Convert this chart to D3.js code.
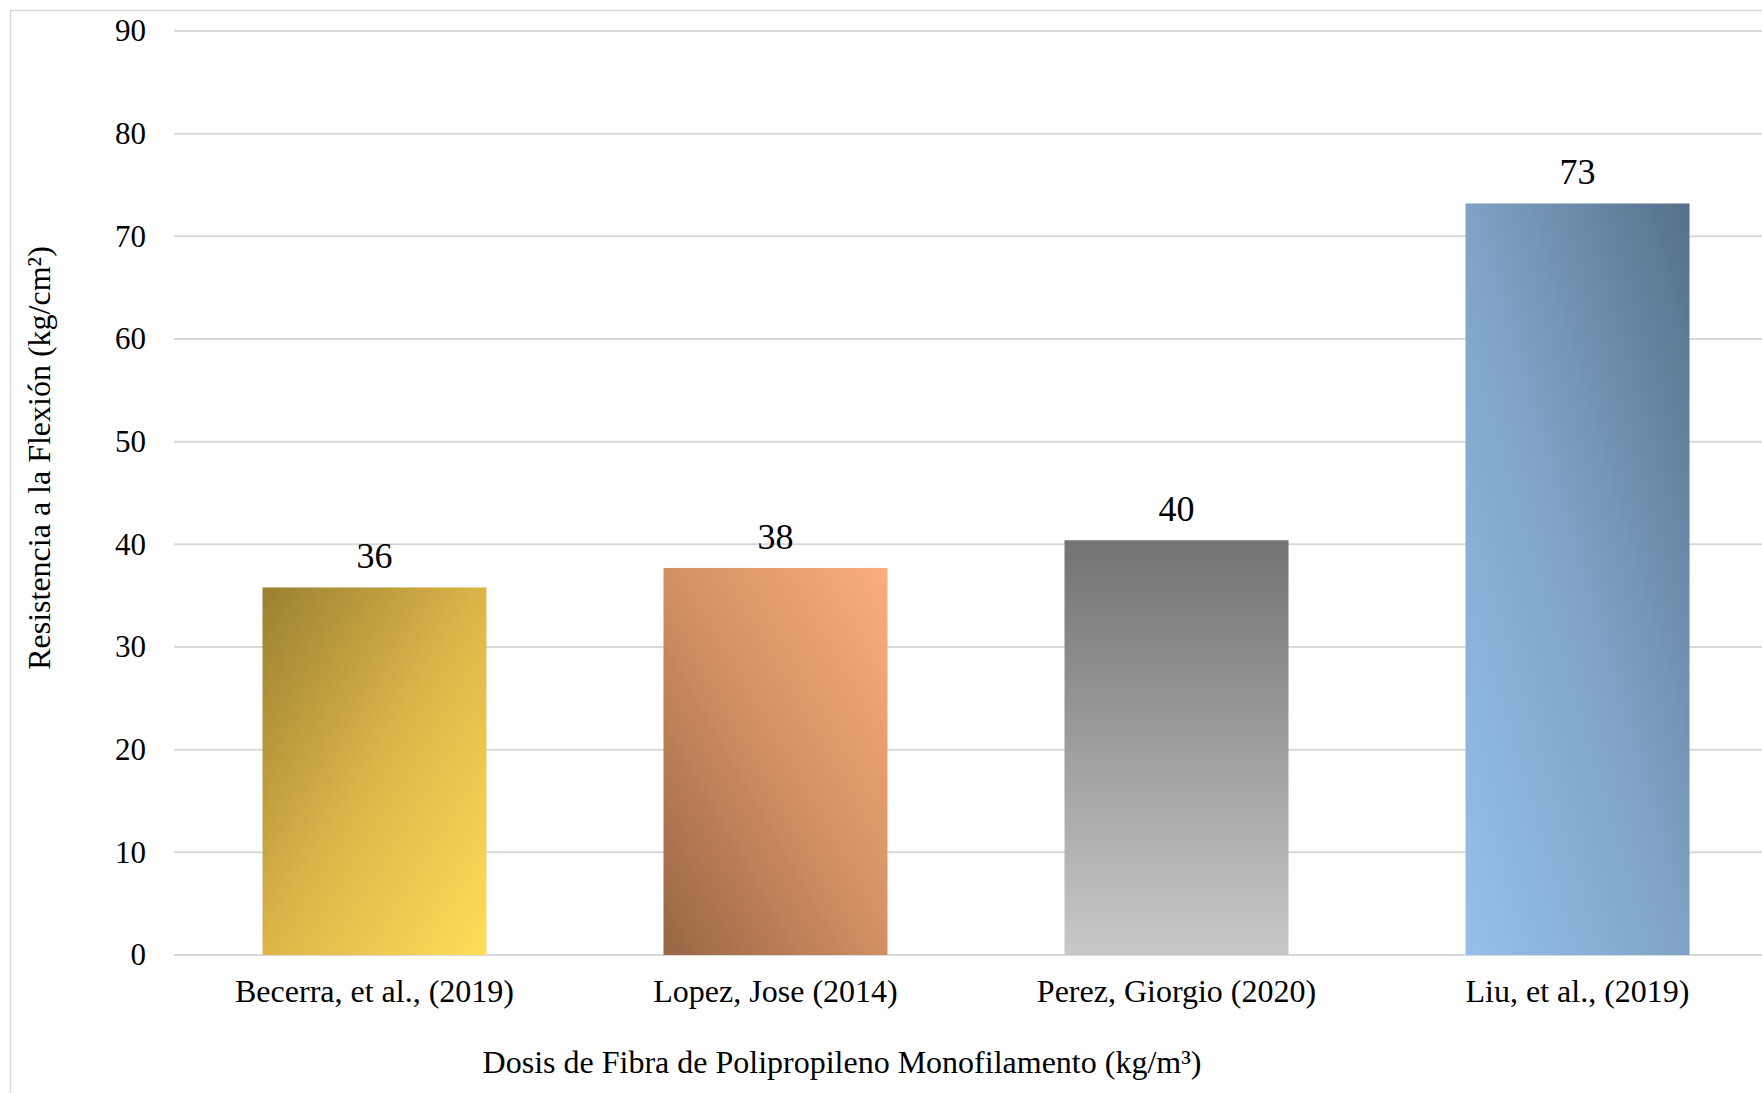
<!DOCTYPE html>
<html>
<head>
<meta charset="utf-8">
<script src="https://cdn.jsdelivr.net/npm/d3@7"></script>
<style>
  html, body { margin: 0; padding: 0; background: #fff; overflow: hidden; }
  svg { display: block; }
  text { font-family: "Times New Roman", "Liberation Serif", serif; fill: #000; }
</style>
</head>
<body>
<svg id="chart"></svg>
<script>
// chart data
const categories = ['Becerra, et al., (2019)', 'Lopez, Jose (2014)', 'Perez, Giorgio (2020)', 'Liu, et al., (2019)'];
const values = [35.8, 37.7, 40.4, 73.2];
const valueLabels = ['36', '38', '40', '73'];
const yTicks = [0, 10, 20, 30, 40, 50, 60, 70, 80, 90];

const width = 1762;
const height = 1093;

const svg = d3.select('#chart')
    .attr('width', width)
    .attr('height', height);

// gradient fills, one per bar
const gradients = [
    { id: 'g0', x1: 0, y1: 0, x2: 1, y2: 1, stops: [['0%', '#9a8030'], ['50%', '#dcb54a'], ['100%', '#ffde58']] },
    { id: 'g1', x1: 0, y1: 1, x2: 1, y2: 0, stops: [['0%', '#976645'], ['50%', '#d38f63'], ['100%', '#fbae7c']] },
    { id: 'g2', x1: 0, y1: 0, x2: 0, y2: 1, stops: [['0%', '#737373'], ['100%', '#c8c8c8']] },
    { id: 'g3', x1: 0, y1: 1, x2: 1, y2: 0, stops: [['0%', '#95c0e8'], ['50%', '#7ea3c6'], ['100%', '#55708a']] }
];
const defs = svg.append('defs');
gradients.forEach(g => {
    const lg = defs.append('linearGradient')
        .attr('id', g.id)
        .attr('x1', g.x1).attr('y1', g.y1)
        .attr('x2', g.x2).attr('y2', g.y2);
    g.stops.forEach(s => lg.append('stop').attr('offset', s[0]).attr('stop-color', s[1]));
});

// outer chart frame (cropped on right and bottom)
svg.append('rect')
    .attr('x', 10.5).attr('y', 10.5)
    .attr('width', 1850).attr('height', 1150)
    .attr('fill', 'none')
    .attr('stroke', '#d9d9d9')
    .attr('stroke-width', 1.5);

const plotLeft = 174, plotRight = 1778, plotTop = 31, plotBottom = 955;

const x = d3.scaleBand()
    .domain(categories)
    .range([plotLeft, plotRight])
    .paddingInner(0.4414)
    .paddingOuter(0.2207);

const y = d3.scaleLinear()
    .domain([0, 90])
    .range([plotBottom, plotTop]);

// gridlines
svg.append('g')
    .selectAll('line')
    .data(yTicks)
    .enter()
    .append('line')
    .attr('x1', plotLeft)
    .attr('x2', plotRight)
    .attr('y1', d => y(d))
    .attr('y2', d => y(d))
    .attr('stroke', '#d9d9d9')
    .attr('stroke-width', 2);

// y axis tick labels
const yAxis = svg.append('g')
    .attr('transform', `translate(${plotLeft - 28},0)`)
    .call(d3.axisLeft(y).tickValues(yTicks).tickSize(0).tickPadding(0));
yAxis.select('.domain').remove();
yAxis.selectAll('text')
    .attr('font-size', '31px')
    .attr('font-family', '"Times New Roman", "Liberation Serif", serif')
    .attr('fill', '#000');

// bars
svg.append('g')
    .selectAll('rect')
    .data(values)
    .enter()
    .append('rect')
    .attr('x', (d, i) => x(categories[i]))
    .attr('y', d => y(d))
    .attr('width', x.bandwidth())
    .attr('height', d => y(0) - y(d))
    .attr('fill', (d, i) => `url(#${gradients[i].id})`);

// value labels
svg.append('g')
    .selectAll('text')
    .data(values)
    .enter()
    .append('text')
    .attr('x', (d, i) => x(categories[i]) + x.bandwidth() / 2)
    .attr('y', d => y(d) - 19)
    .attr('text-anchor', 'middle')
    .attr('font-size', '36px')
    .text((d, i) => valueLabels[i]);

// category labels
svg.append('g')
    .selectAll('text')
    .data(categories)
    .enter()
    .append('text')
    .attr('x', d => x(d) + x.bandwidth() / 2)
    .attr('y', 1002)
    .attr('text-anchor', 'middle')
    .attr('font-size', '32px')
    .text(d => d);

// axis titles
svg.append('text')
    .attr('x', 842)
    .attr('y', 1073)
    .attr('text-anchor', 'middle')
    .attr('font-size', '32px')
    .text('Dosis de Fibra de Polipropileno Monofilamento (kg/m³)');

svg.append('text')
    .attr('transform', 'translate(50,458) rotate(-90)')
    .attr('text-anchor', 'middle')
    .attr('font-size', '32px')
    .text('Resistencia a la Flexión (kg/cm²)');
</script>
</body>
</html>
